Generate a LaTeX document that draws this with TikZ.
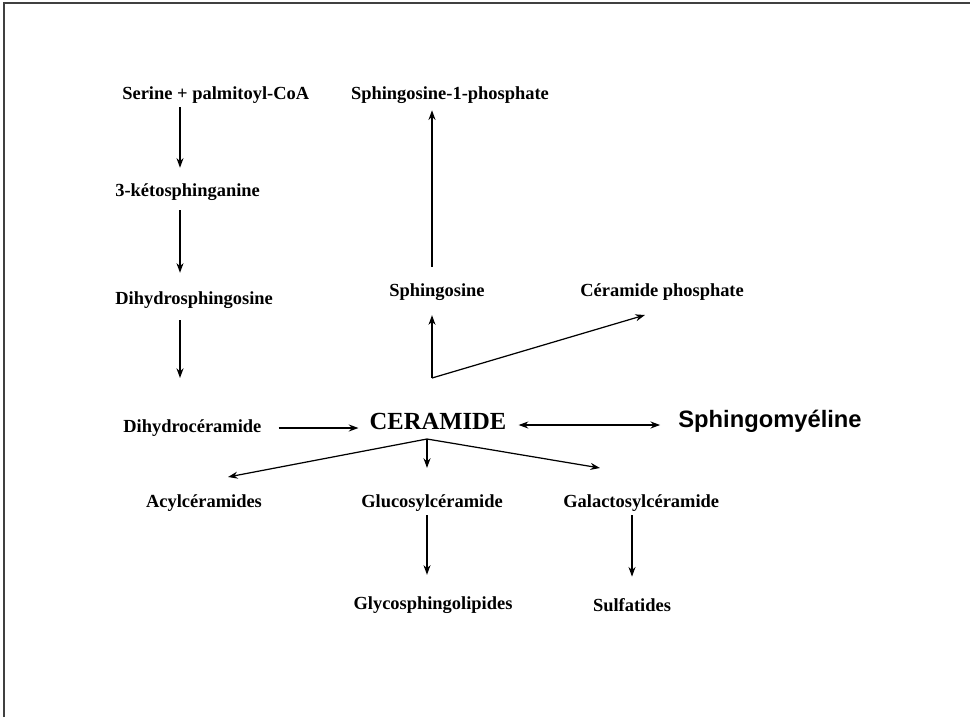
\documentclass[tikz,border=0pt]{standalone}
\usepackage{fontspec}
\setmainfont{Liberation Serif}
\newfontfamily\sansfont{Liberation Sans}
\usetikzlibrary{arrows.meta}
\tikzset{
    tnode/.style = {align=center, inner xsep=0pt, inner ysep=2pt, text centered},
    lipid_node/.style = {tnode, font=\fontsize{10.5}{12}\selectfont\bfseries},
    core_node/.style = {tnode, font=\fontsize{14}{16}\selectfont\bfseries},
    sans_node/.style = {tnode, font=\sansfont\fontsize{13.5}{16}\selectfont\bfseries},
    flow/.style = {->, line width=0.7pt},
    frame/.style = {line width=0.9pt, black!75}
}

\begin{document}
\begin{tikzpicture}
            [-,>={Stealth[length=5.5pt, width=4pt]}, x=0.02cm, y=-0.02cm]
            \useasboundingbox (0,0) rectangle (970,717);
            \draw [frame] (4,717) -- (4,3) -- (970,3);

            % voie de synthese
            \coordinate (lane) at (180,0);
            \node [lipid_node, anchor=west] (serine) at (122,95) {Serine + palmitoyl-CoA};
            \node [lipid_node, anchor=west] (keto) at (115,192) {3-kétosphinganine};
            \node [lipid_node, anchor=west] (dihydro) at (115,300) {Dihydrosphingosine};
            \node [lipid_node, anchor=west] (dihydrocer) at (123,428) {Dihydrocéramide};

            \node [core_node] (ceramide) at (438,421) {CERAMIDE};
            \node [sans_node] (sphingomyeline) at (770,421) {Sphingomyéline};

            \node [lipid_node] (s1p) at (450,95) {Sphingosine-1-phosphate};
            \node [lipid_node] (sphingosine) at (437,292) {Sphingosine};
            \node [lipid_node, anchor=west] (cerphos) at (580,292) {Céramide phosphate};

            \node [lipid_node] (acyl) at (204,503) {Acylcéramides};
            \node [lipid_node] (gluco) at (432,503) {Glucosylcéramide};
            \node [lipid_node, anchor=west] (galacto) at (563,503) {Galactosylcéramide};
            \node [lipid_node] (glyco) at (433,605) {Glycosphingolipides};
            \node [lipid_node] (sulfat) at (632,605) {Sulfatides};

            \coordinate (bend) at (432,378);
            \coordinate (phostip) at (645,315);
            \coordinate (apex) at (427,439);
            \coordinate (acyltip) at (228,477);
            \coordinate (galactip) at (600,468);

            \draw [flow, shorten >=6.8pt] (serine.south -| lane) -- (keto.north -| lane);
            \draw [flow, shorten <=3.4pt, shorten >=8.5pt] (keto.south -| lane) -- (dihydro.north -| lane);
            \draw [flow, shorten <=4.5pt, shorten >=21.5pt] (dihydro.south -| lane) -- (dihydrocer.north -| lane);
            \draw [flow, shorten <=9.6pt, shorten >=6.2pt] (dihydrocer.east) -- (ceramide.west |- dihydrocer.east);
            \draw [flow, <->, shorten <=6.8pt, shorten >=10.2pt] (ceramide.east |- 0,425) -- (sphingomyeline.west |- 0,425);

            \draw [flow, shorten <=7.4pt, shorten >=1.7pt] (sphingosine.north -| bend) -- (s1p.south -| bend);
            \draw [flow, shorten >=6.2pt] (bend) -- (sphingosine.south -| bend);
            \draw [flow] (bend) -- (phostip);

            \draw [flow] (apex) -- (acyltip);
            \draw [flow, shorten >=13pt] (apex) -- (gluco.north -| apex);
            \draw [flow] (apex) -- (galactip);
            \draw [flow, shorten >=10.2pt] (gluco.south -| apex) -- (glyco.north -| apex);
            \draw [flow, shorten >=10.2pt] (galacto.south -| sulfat) -- (sulfat.north);
\end{tikzpicture}
\end{document}
